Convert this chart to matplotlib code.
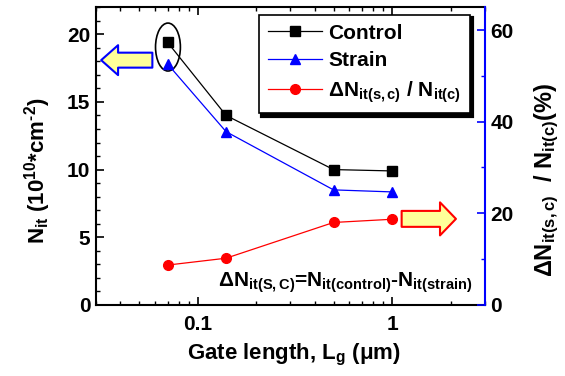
import matplotlib
matplotlib.use('Agg')
import matplotlib.pyplot as plt
from matplotlib.patches import Ellipse
from matplotlib.ticker import MultipleLocator, LogLocator, NullFormatter

plt.rcParams.update({
    'font.family': ['Liberation Sans', 'DejaVu Sans'],
    'font.weight': 'bold',
    'axes.labelweight': 'bold',
    'font.size': 15,
    'mathtext.fontset': 'custom',
    'mathtext.rm': 'Liberation Sans:bold',
    'mathtext.it': 'Liberation Sans:bold',
    'mathtext.bf': 'Liberation Sans:bold',
    'mathtext.sf': 'Liberation Sans:bold',
})

# data
gate_length = [0.07, 0.14, 0.5, 1.0]          # um
nit_control = [19.4, 14.0, 10.0, 9.9]          # 1e10 cm^-2
nit_strain = [17.8, 12.8, 8.5, 8.35]
delta_pct = [8.7, 10.2, 18.0, 18.7]            # %

fig, ax = plt.subplots(figsize=(5.65, 3.76), dpi=100)
fig.subplots_adjust(left=0.17, right=0.858, top=0.981, bottom=0.189)
ax2 = ax.twinx()

l1, = ax.plot(gate_length, nit_control, '-s', color='black', lw=0.9, ms=6.5)
l2, = ax.plot(gate_length, nit_strain, '-^', color='blue', lw=0.9, ms=7.5)
l3, = ax2.plot(gate_length, delta_pct, '-o', color='red', lw=0.9, ms=7)

ax.set_xscale('log')
ax.set_xlim(0.03, 3)
ax.set_ylim(0, 22)
ax2.set_ylim(0, 65)

ax.set_xticks([0.1, 1])
ax.set_xticklabels(['0.1', '1'])
ax.xaxis.set_minor_locator(LogLocator(base=10, subs=range(2, 10)))
ax.xaxis.set_minor_formatter(NullFormatter())
ax.yaxis.set_major_locator(MultipleLocator(5))
ax.yaxis.set_minor_locator(MultipleLocator(1))
ax2.yaxis.set_major_locator(MultipleLocator(20))
ax2.yaxis.set_minor_locator(MultipleLocator(10))

ax.tick_params(which='both', direction='in', top=True, right=False, labelsize=15)
ax.tick_params(axis='x', pad=7)
ax.tick_params(axis='y', pad=4)
ax.tick_params(which='major', length=6, width=1.2)
ax.tick_params(which='minor', length=3, width=1)
ax2.tick_params(which='both', direction='in', colors='blue', labelcolor='black', labelsize=15, pad=4)
ax2.tick_params(which='major', length=6, width=1.2)
ax2.tick_params(which='minor', length=3, width=1)
for s in ax.spines.values():
    s.set_linewidth(1.5)
ax.spines['right'].set_visible(False)
ax2.spines['right'].set_color('blue')
ax2.spines['right'].set_linewidth(1.5)
ax2.spines['left'].set_visible(False)
ax2.spines['top'].set_visible(False)
ax2.spines['bottom'].set_visible(False)

ax.set_xlabel(r'Gate length, L$_{\mathrm{g}}$ ($\mu$m)', fontsize=16)
ax.xaxis.set_label_coords(0.51, -0.125)
ax.set_ylabel(r'N$_{\mathrm{it}}$ (10$^{\mathrm{10}}$*cm$^{\text{-2}}$)', fontsize=16)
ax.yaxis.set_label_coords(-0.11, 0.45)
ax2.set_ylabel(r'$\Delta$N$_{\mathrm{it(s,c)}}$  / N$_{\mathrm{it(c)}}$(%)', fontsize=17)
ax2.yaxis.set_label_coords(1.123, 0.42)

leg = ax.legend([l1, l2, l3], ['Control', 'Strain', r'$\Delta$N$_{\mathrm{it(s,c)}}$ / N$_{\mathrm{it(c)}}$'],
                loc='upper right', bbox_to_anchor=(0.961, 0.973), fontsize=15, numpoints=1,
                handlelength=2.6, fancybox=False, borderaxespad=0, framealpha=1,
                edgecolor='black', shadow={'color': 'black', 'alpha': 1, 'lw': 3, 'ec': 'black'},
                labelspacing=0.42, borderpad=0.4, handletextpad=0.3)
leg.get_frame().set_linewidth(1.2)
leg.set_zorder(10)

ax.text(0.314, 0.06, r'$\Delta$N$_{\mathrm{it(S,C)}}$=N$_{\mathrm{it(control)}}$-N$_{\mathrm{it(strain)}}$',
        transform=ax.transAxes, fontsize=15, ha='left', va='baseline')

ax.add_patch(Ellipse((0.185, 0.866), 0.064, 0.161, transform=ax.transAxes,
                     fill=False, ec='black', lw=1.2))

ax.annotate('', xy=(0.006, 0.822), xytext=(0.152, 0.822), xycoords='axes fraction',
            arrowprops=dict(arrowstyle='simple,tail_width=0.77,head_width=1.54,head_length=0.87',
                            mutation_scale=14, fc='#ffff99', ec='blue', lw=1.5))
ax.annotate('', xy=(0.933, 0.289), xytext=(0.779, 0.289), xycoords='axes fraction',
            arrowprops=dict(arrowstyle='simple,tail_width=0.82,head_width=1.7,head_length=0.82',
                            mutation_scale=14, fc='#ffff99', ec='red', lw=1.5))

fig.savefig('out.png', dpi=100)
